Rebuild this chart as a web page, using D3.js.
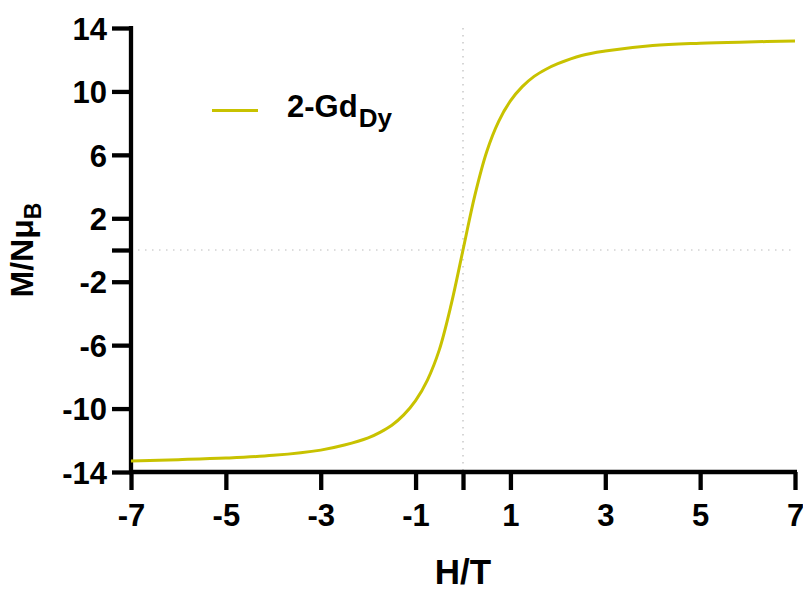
<!DOCTYPE html>
<html>
<head>
<meta charset="utf-8">
<script src="https://cdn.jsdelivr.net/npm/d3@7"></script>
<style>
  body { margin: 0; background: #fff; }
  text { font-family: "Liberation Sans", Arial, sans-serif; font-weight: bold; }
</style>
</head>
<body>
<div id="chart"></div>
<script>
// field values (T) and magnetisation (N muB)
var fieldH = [-7, -6, -5, -4, -3, -2.5, -2, -1.75, -1.5, -1.25, -1, -0.75, -0.5, -0.25, 0,
              0.25, 0.5, 0.75, 1, 1.25, 1.5, 1.75, 2, 2.5, 3, 4, 5, 6, 7];
var magM = [-13.3, -13.22, -13.12, -12.95, -12.62, -12.3, -11.85, -11.5, -11.05, -10.4, -9.5, -8.2, -6.3, -3.45, 0,
            3.45, 6.2, 8.1, 9.4, 10.3, 10.95, 11.4, 11.75, 12.27, 12.55, 12.9, 13.04, 13.12, 13.18];

var xTicks = [-7, -5, -3, -1, 0, 1, 3, 5, 7];
var yTicks = [14, 10, 6, 2, 0, -2, -6, -10, -14];
var seriesName = "2-Gd";
var seriesSub = "Dy";

var width = 803, height = 591;
var lineColor = "#c8c200";

var svg = d3.select("#chart").append("svg")
  .attr("width", width)
  .attr("height", height);

var x = d3.scaleLinear().domain([-7, 7]).range([131, 795]);
var y = d3.scaleLinear().domain([-14, 14]).range([472, 28]);

// zero guides
svg.append("line")
  .attr("x1", x(0)).attr("x2", x(0))
  .attr("y1", y(14)).attr("y2", y(-14))
  .attr("stroke", "#bbb").attr("stroke-width", 1.2)
  .attr("stroke-dasharray", "1.5,5.5");
svg.append("line")
  .attr("x1", x(-7)).attr("x2", x(7))
  .attr("y1", y(0)).attr("y2", y(0))
  .attr("stroke", "#bbb").attr("stroke-width", 1.2)
  .attr("stroke-dasharray", "1.5,5.5");

var xAxis = svg.append("g")
  .attr("transform", "translate(0," + y(-14) + ")")
  .call(d3.axisBottom(x).tickValues(xTicks)
    .tickFormat(d => d === 0 ? "" : d)
    .tickSize(18).tickSizeOuter(0).tickPadding(14));

var yAxis = svg.append("g")
  .attr("transform", "translate(" + x(-7) + ",0)")
  .call(d3.axisLeft(y).tickValues(yTicks)
    .tickFormat(d => d === 0 ? "" : d)
    .tickSize(19).tickSizeOuter(0).tickPadding(5));

[xAxis, yAxis].forEach(g => {
  g.select(".domain").attr("stroke", "#000").attr("stroke-width", 4.3);
  g.selectAll(".tick line").attr("stroke", "#000").attr("stroke-width", 4.3);
  g.selectAll(".tick text")
    .attr("fill", "#000")
    .style("font-size", "31px")
    .style("font-family", "'Liberation Sans', Arial, sans-serif")
    .style("font-weight", "bold");
});
// make the axes meet cleanly at the corner
xAxis.select(".domain").attr("d", "M" + (x(-7) - 2) + ",0H" + (x(7) + 2));
yAxis.select(".domain").attr("d", "M0," + (y(14) - 2) + "V" + (y(-14) + 2));
yAxis.selectAll(".tick text").attr("dy", "0.36em");

// curve
var line = d3.line()
  .x((d, i) => x(fieldH[i]))
  .y(d => y(d))
  .curve(d3.curveCatmullRom.alpha(0.5));

svg.append("path")
  .datum(magM)
  .attr("d", line)
  .attr("fill", "none")
  .attr("stroke", lineColor)
  .attr("stroke-width", 3);

// axis titles
svg.append("text")
  .attr("x", x(0))
  .attr("y", 584)
  .attr("text-anchor", "middle")
  .style("font-size", "35px")
  .text("H/T");

var yTitle = svg.append("text")
  .attr("transform", "translate(33," + y(0) + ") rotate(-90)")
  .attr("text-anchor", "middle")
  .style("font-size", "32px");
yTitle.append("tspan").text("M/Nμ");
yTitle.append("tspan").attr("dy", "0.35em").style("font-size", "23px").text("B");

// legend
svg.append("line")
  .attr("x1", 212).attr("x2", 258)
  .attr("y1", 110.5).attr("y2", 110.5)
  .attr("stroke", lineColor).attr("stroke-width", 3);

var leg = svg.append("text")
  .attr("x", 287).attr("y", 117)
  .style("font-size", "31px");
leg.append("tspan").text(seriesName);
leg.append("tspan").attr("dy", 10).attr("dx", 1).style("font-size", "26px").text(seriesSub);
</script>
</body>
</html>
